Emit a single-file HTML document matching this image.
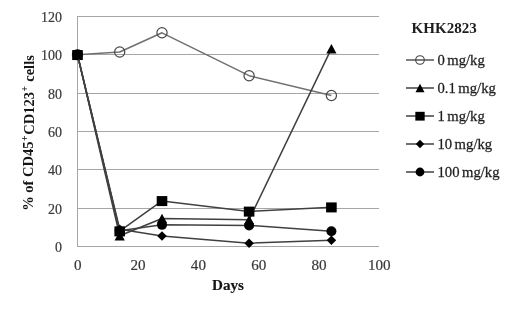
<!DOCTYPE html><html><head><meta charset="utf-8"><style>html,body{margin:0;padding:0;background:#fff;}body{width:520px;height:312px;overflow:hidden;}svg{display:block;filter:blur(0.35px);}text{font-family:"Liberation Serif","Times New Roman",serif;}</style></head><body>
<svg width="520" height="312" viewBox="0 0 520 312">
<rect width="520" height="312" fill="#fff"/>
<line x1="77.5" y1="208.5" x2="379.0" y2="208.5" stroke="#a6a6a6" stroke-width="1"/>
<line x1="77.5" y1="169.5" x2="379.0" y2="169.5" stroke="#a6a6a6" stroke-width="1"/>
<line x1="77.5" y1="131.5" x2="379.0" y2="131.5" stroke="#a6a6a6" stroke-width="1"/>
<line x1="77.5" y1="93.5" x2="379.0" y2="93.5" stroke="#a6a6a6" stroke-width="1"/>
<line x1="77.5" y1="54.5" x2="379.0" y2="54.5" stroke="#a6a6a6" stroke-width="1"/>
<line x1="77.5" y1="16.5" x2="379.0" y2="16.5" stroke="#a6a6a6" stroke-width="1"/>
<line x1="77.0" y1="246.5" x2="379.0" y2="246.5" stroke="#a6a6a6" stroke-width="1"/>
<line x1="77.5" y1="16" x2="77.5" y2="246.5" stroke="#a6a6a6" stroke-width="1"/>
<text transform="translate(62.00,252.10) scale(1.0,1)" font-size="14" text-anchor="end" fill="#3a3a3a" stroke="#3a3a3a" stroke-width="0.2">0</text>
<text transform="translate(62.00,213.77) scale(1.0,1)" font-size="14" text-anchor="end" fill="#3a3a3a" stroke="#3a3a3a" stroke-width="0.2">20</text>
<text transform="translate(62.00,175.43) scale(1.0,1)" font-size="14" text-anchor="end" fill="#3a3a3a" stroke="#3a3a3a" stroke-width="0.2">40</text>
<text transform="translate(62.00,137.10) scale(1.0,1)" font-size="14" text-anchor="end" fill="#3a3a3a" stroke="#3a3a3a" stroke-width="0.2">60</text>
<text transform="translate(62.00,98.77) scale(1.0,1)" font-size="14" text-anchor="end" fill="#3a3a3a" stroke="#3a3a3a" stroke-width="0.2">80</text>
<text transform="translate(62.00,60.43) scale(1.0,1)" font-size="14" text-anchor="end" fill="#3a3a3a" stroke="#3a3a3a" stroke-width="0.2">100</text>
<text transform="translate(62.00,22.10) scale(1.0,1)" font-size="14" text-anchor="end" fill="#3a3a3a" stroke="#3a3a3a" stroke-width="0.2">120</text>
<text transform="translate(77.80,270.00) scale(1.08,1)" font-size="14" text-anchor="middle" fill="#3a3a3a" stroke="#3a3a3a" stroke-width="0.2">0</text>
<text transform="translate(138.10,270.00) scale(1.08,1)" font-size="14" text-anchor="middle" fill="#3a3a3a" stroke="#3a3a3a" stroke-width="0.2">20</text>
<text transform="translate(198.40,270.00) scale(1.08,1)" font-size="14" text-anchor="middle" fill="#3a3a3a" stroke="#3a3a3a" stroke-width="0.2">40</text>
<text transform="translate(258.70,270.00) scale(1.08,1)" font-size="14" text-anchor="middle" fill="#3a3a3a" stroke="#3a3a3a" stroke-width="0.2">60</text>
<text transform="translate(319.00,270.00) scale(1.08,1)" font-size="14" text-anchor="middle" fill="#3a3a3a" stroke="#3a3a3a" stroke-width="0.2">80</text>
<text transform="translate(379.30,270.00) scale(1.08,1)" font-size="14" text-anchor="middle" fill="#3a3a3a" stroke="#3a3a3a" stroke-width="0.2">100</text>
<text transform="translate(228.00,290.20) scale(1.08,1)" font-size="14" font-weight="bold" text-anchor="middle" fill="#141414" stroke="#141414" stroke-width="0.15">Days</text>
<text transform="translate(33.2,133.0) rotate(-90)" font-size="14.5" font-weight="bold" text-anchor="middle" fill="#141414">% of CD45<tspan font-size="9.5" dy="-5.2" dx="0.5">+</tspan><tspan dy="5.5" dx="0.8">CD123</tspan><tspan font-size="9.5" dy="-5.2" dx="0.5">+</tspan><tspan dy="5.5" dx="0.8"> cells</tspan></text>
<polyline points="77.5,54.8 119.7,52.0 162.0,32.8 249.1,75.7 331.4,95.5" fill="none" stroke="#707070" stroke-width="1.5" stroke-linejoin="round"/>
<circle cx="77.5" cy="54.8" r="5.1" fill="none" stroke="#484848" stroke-width="1.2"/>
<circle cx="119.7" cy="52.0" r="5.1" fill="none" stroke="#484848" stroke-width="1.2"/>
<circle cx="162.0" cy="32.8" r="5.1" fill="none" stroke="#484848" stroke-width="1.2"/>
<circle cx="249.1" cy="75.7" r="5.1" fill="none" stroke="#484848" stroke-width="1.2"/>
<circle cx="331.4" cy="95.5" r="5.1" fill="none" stroke="#484848" stroke-width="1.2"/>
<polyline points="77.5,54.8 119.7,235.8 162.0,218.5 249.1,219.7 331.4,48.7" fill="none" stroke="#404040" stroke-width="1.5" stroke-linejoin="round"/>
<polygon points="77.50,50.08 82.60,59.58 72.40,59.58" fill="#000"/>
<polygon points="119.70,231.02 124.80,240.52 114.60,240.52" fill="#000"/>
<polygon points="162.00,213.77 167.10,223.27 156.90,223.27" fill="#000"/>
<polygon points="249.10,214.92 254.20,224.42 244.00,224.42" fill="#000"/>
<polygon points="331.40,43.95 336.50,53.45 326.30,53.45" fill="#000"/>
<polyline points="77.5,54.8 119.7,231.2 162.0,200.9 249.1,211.4 331.4,207.2" fill="none" stroke="#404040" stroke-width="1.5" stroke-linejoin="round"/>
<rect x="72.20" y="50.03" width="10.60" height="10.00" fill="#000"/>
<rect x="114.40" y="226.37" width="10.60" height="10.00" fill="#000"/>
<rect x="156.70" y="196.08" width="10.60" height="10.00" fill="#000"/>
<rect x="243.80" y="206.62" width="10.60" height="10.00" fill="#000"/>
<rect x="326.10" y="202.41" width="10.60" height="10.00" fill="#000"/>
<polyline points="77.5,54.8 119.7,229.2 162.0,236.0 249.1,243.2 331.4,240.2" fill="none" stroke="#404040" stroke-width="1.5" stroke-linejoin="round"/>
<polygon points="77.50,50.13 82.30,54.83 77.50,59.53 72.70,54.83" fill="#000"/>
<polygon points="119.70,224.55 124.50,229.25 119.70,233.95 114.90,229.25" fill="#000"/>
<polygon points="162.00,231.26 166.80,235.96 162.00,240.66 157.20,235.96" fill="#000"/>
<polygon points="249.10,238.54 253.90,243.24 249.10,247.94 244.30,243.24" fill="#000"/>
<polygon points="331.40,235.48 336.20,240.18 331.40,244.88 326.60,240.18" fill="#000"/>
<polyline points="77.5,54.8 119.7,230.8 162.0,224.8 249.1,225.4 331.4,231.2" fill="none" stroke="#404040" stroke-width="1.5" stroke-linejoin="round"/>
<circle cx="77.50" cy="54.83" r="5.00" fill="#000"/>
<circle cx="119.70" cy="230.78" r="5.00" fill="#000"/>
<circle cx="162.00" cy="224.84" r="5.00" fill="#000"/>
<circle cx="249.10" cy="225.42" r="5.00" fill="#000"/>
<circle cx="331.40" cy="231.17" r="5.00" fill="#000"/>
<text transform="translate(411.60,32.50) scale(0.99,1)" font-size="15.2" font-weight="bold" text-anchor="start" fill="#1e1e1e">KHK2823</text>
<line x1="406" y1="60" x2="434" y2="60" stroke="#555" stroke-width="1.5"/>
<circle cx="420.0" cy="60.0" r="4.3" fill="none" stroke="#404040" stroke-width="1.1"/>
<text transform="translate(437.50,64.70) scale(1.05,1)" font-size="14" text-anchor="start" fill="#1e1e1e" stroke="#1e1e1e" stroke-width="0.25">0<tspan dx="-1.2"> </tspan>mg/kg</text>
<line x1="406" y1="88" x2="434" y2="88" stroke="#404040" stroke-width="1.5"/>
<polygon points="420.00,83.82 424.49,92.18 415.51,92.18" fill="#000"/>
<text transform="translate(437.50,92.70) scale(1.05,1)" font-size="14" text-anchor="start" fill="#1e1e1e" stroke="#1e1e1e" stroke-width="0.25">0.1<tspan dx="-1.2"> </tspan>mg/kg</text>
<line x1="406" y1="116" x2="434" y2="116" stroke="#404040" stroke-width="1.5"/>
<rect x="415.34" y="111.80" width="9.33" height="8.80" fill="#000"/>
<text transform="translate(437.50,120.70) scale(1.05,1)" font-size="14" text-anchor="start" fill="#1e1e1e" stroke="#1e1e1e" stroke-width="0.25">1<tspan dx="-1.2"> </tspan>mg/kg</text>
<line x1="406" y1="144" x2="434" y2="144" stroke="#404040" stroke-width="1.5"/>
<polygon points="420.00,139.86 424.22,144.00 420.00,148.14 415.78,144.00" fill="#000"/>
<text transform="translate(437.50,148.70) scale(1.05,1)" font-size="14" text-anchor="start" fill="#1e1e1e" stroke="#1e1e1e" stroke-width="0.25">10<tspan dx="-1.2"> </tspan>mg/kg</text>
<line x1="406" y1="172" x2="434" y2="172" stroke="#404040" stroke-width="1.5"/>
<circle cx="420.00" cy="172.00" r="4.40" fill="#000"/>
<text transform="translate(437.50,176.70) scale(1.05,1)" font-size="14" text-anchor="start" fill="#1e1e1e" stroke="#1e1e1e" stroke-width="0.25">100<tspan dx="-1.2"> </tspan>mg/kg</text>
</svg></body></html>
